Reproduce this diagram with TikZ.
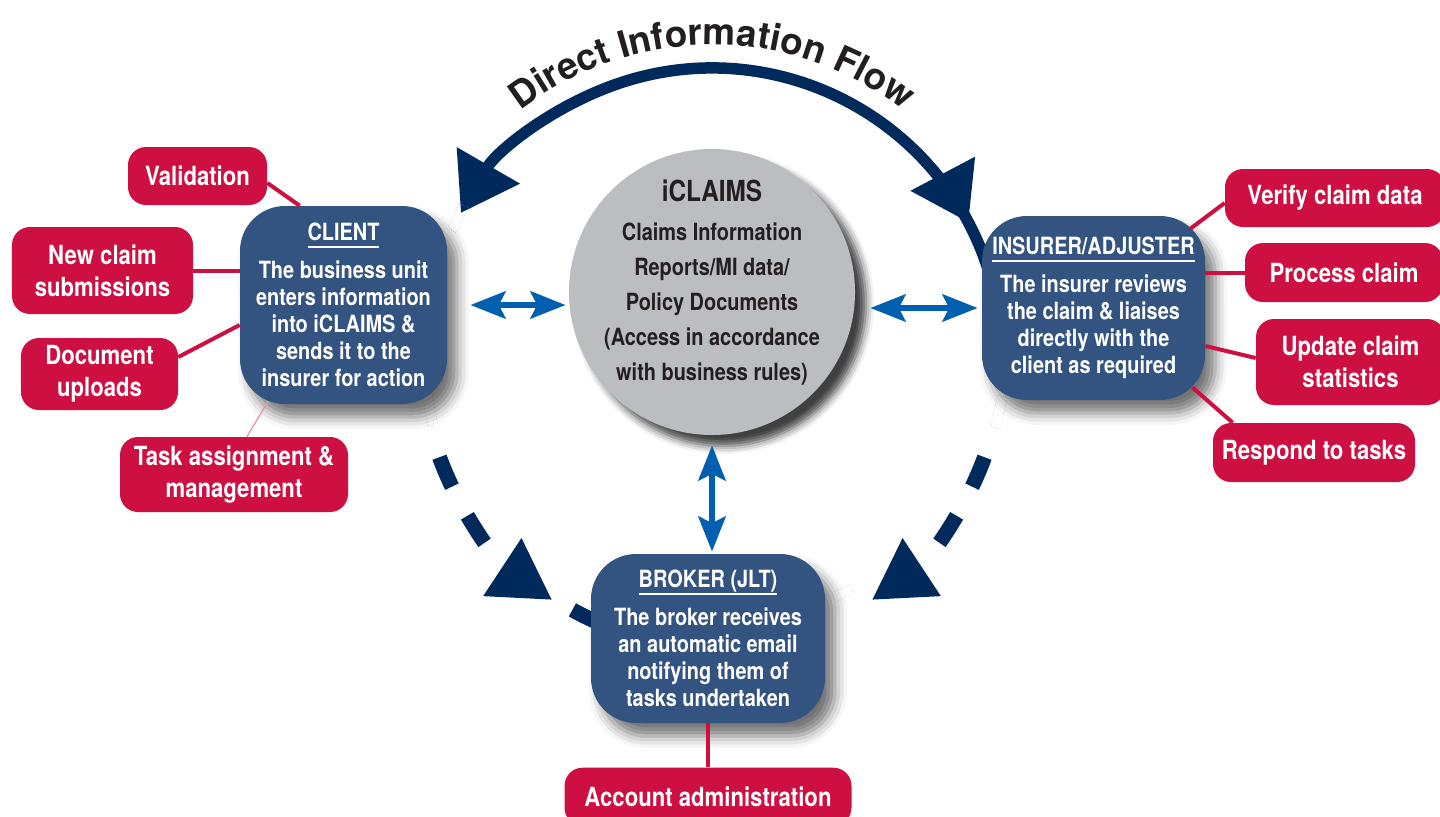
\documentclass[tikz,border=0pt]{standalone}
\usepackage{fontspec}
\setmainfont{TeX Gyre Heros}[FakeStretch=0.84]
\newfontfamily\flowfont{TeX Gyre Heros}
\usetikzlibrary{arrows.meta,decorations.text,decorations.markings,shadows.blur,positioning}

\definecolor{boxblue}{RGB}{51,83,128}
\definecolor{tagred}{RGB}{205,15,65}
\definecolor{ringnavy}{RGB}{0,42,92}
\definecolor{linkblue}{RGB}{0,96,175}
\definecolor{hubgray}{RGB}{188,189,192}
\definecolor{ink}{RGB}{35,31,32}

% underlined heading inside a party box
\newcommand{\boxhead}[1]{\setbox0=\hbox{#1}\rlap{\raisebox{-4.3pt}{\rule{\wd0}{1.3pt}}}\box0}

\begin{document}
\begin{tikzpicture}[
  x=0.2mm, y=-0.2mm,
  party/.style={rectangle, rounded corners=9mm, fill=boxblue, text=white, align=center, inner sep=0pt,
    font=\bfseries\fontsize{13.5}{15.4}\selectfont,
    blur shadow={shadow xshift=2mm, shadow yshift=-2.6mm, shadow blur radius=2.4mm, shadow opacity=55}},
  task/.style={rectangle, rounded corners=3.6mm, fill=tagred, text=white, align=center, inner sep=0pt,
    font=\bfseries\fontsize{15}{18}\selectfont},
  link/.style={tagred, line width=0.8mm},
  flow/.style={ringnavy, line width=2.3mm},
  flowdash/.style={ringnavy, line width=3mm, dash pattern=on 6.4mm off 6.6mm},
  bigtip/.style={-{Triangle[length=11mm,width=14mm]}},
  sync/.style={linkblue, line width=1.3mm,
    {Stealth[length=7mm,width=5.4mm,inset=1.3mm]}-{Stealth[length=7mm,width=5.4mm,inset=1.3mm]}},
  frame/.style={draw=gray!60, densely dotted, line width=0.3pt}
]
\useasboundingbox (0,0) rectangle (1440,816);
\coordinate (ring) at (712,358);

% Flow ring, solid on top, dashed towards the broker
\draw[flow, bigtip, postaction={decorate},
  decoration={markings, mark=at position 10mm with {\arrowreversed{Triangle[length=11mm,width=14mm]}}}]
  ([shift={(342:290)}]ring) arc[start angle=342, end angle=210, radius=290];
\draw[flowdash, -{Triangle[length=12mm,width=13mm]}]
  ([shift={(160:290)}]ring) arc[start angle=160, end angle=123.4, radius=290];
\draw[flowdash, dash pattern=] ([shift={(119:288)}]ring) arc[start angle=119, end angle=105, radius=288];
\draw[flowdash, -{Triangle[length=12mm,width=13mm]}]
  ([shift={(20:290)}]ring) arc[start angle=20, end angle=56.6, radius=290];

% Stray frames
\draw[frame, rotate around={-25:(458,218)}] (453,204) rectangle (463,232);
\draw[frame, rotate around={10:(430,410)}] (425,394) rectangle (435,426);
\draw[frame, rotate around={-12:(999,412)}] (994,396) rectangle (1004,428);
\draw[frame, rotate around={25:(843,593)}] (833,588) rectangle (853,598);

% Hub
\node[circle, fill=hubgray, minimum size=57.2mm, inner sep=-3mm, align=center, text=ink, text depth=4.6mm,
  font=\bfseries\fontsize{13.5}{20}\selectfont,
  blur shadow={shadow xshift=2.2mm, shadow yshift=-2.2mm, shadow blur radius=1.6mm, shadow opacity=75}]
  (hub) at (712,292) {{\fontsize{16.5}{20}\selectfont iCLAIMS}\\[0.6mm]Claims Information\\Reports/MI data/\\Policy Documents\\(Access in accordance\\with business rules)};

% Parties
\node[party, minimum width=41.4mm, minimum height=39.6mm] (client) at (343.5,305)
  {\boxhead{CLIENT}\\[2.2mm]The business unit\\enters information\\into iCLAIMS \&\\sends it to the\\insurer for action};
\node[party, minimum width=44.6mm, minimum height=36.8mm] (insurer) at (1093.5,308)
  {\boxhead{INSURER/ADJUSTER}\\[2.2mm]The insurer reviews\\the claim \& liaises\\directly with the\\client as required};
\node[party, minimum width=46.8mm, minimum height=33.8mm] (broker) at (708,638.5)
  {\boxhead{BROKER (JLT)}\\[2.2mm]The broker receives\\an automatic email\\notifying them of\\tasks undertaken};

% Client tasks
\node[task, minimum width=27.8mm, minimum height=11.6mm] (valid) at (197.5,176) {Validation};
\node[task, minimum width=36.2mm, minimum height=17.4mm] (newclaim) at (102.5,270.5) {New claim\\submissions};
\node[task, minimum width=31.4mm, minimum height=14.4mm] (docs) at (99.5,374) {Document\\uploads};
\node[task, minimum width=45.6mm, minimum height=15mm] (assign) at (234,474.5) {Task assignment \&\\management};

% Insurer tasks
\node[task, minimum width=44mm, minimum height=11.6mm] (verify) at (1335,198) {Verify claim data};
\node[task, minimum width=39.6mm, minimum height=11.8mm] (process) at (1344,272.5) {Process claim};
\node[task, minimum width=37.8mm, minimum height=17.2mm] (stats) at (1350.5,362) {Update claim\\statistics};
\node[task, minimum width=40.4mm, minimum height=11.8mm] (respond) at (1314,452.5) {Respond to tasks};

% Broker task
\node[task, minimum width=57.4mm, minimum height=11.6mm, below=8.8mm of broker] (admin) {Account administration};

% Task links
\draw[link] ([yshift=-1.4mm]valid.east) -- ([xshift=12mm]client.north west);
\draw[link] (newclaim.east) -- (newclaim.east -| client.west);
\draw[link] ([yshift=3.4mm]docs.east) -- ([yshift=-4mm]client.west);
\draw[tagred!45, line width=0.25mm] ([xshift=2.6mm]assign.north) -- ([xshift=-15.1mm,yshift=0.6mm]client.south);
\draw[link] ([yshift=-1mm]verify.west) -- ([xshift=-3mm,yshift=-2.6mm]insurer.north east);
\draw[link] (process.west) -- (process.west -| insurer.east);
\draw[link] ([yshift=0.8mm]stats.west) -- ([yshift=-7.6mm]insurer.east);
\draw[link] ([xshift=4mm]respond.north west) -- ([xshift=-2.6mm,yshift=2.6mm]insurer.south east);
\draw[link] (broker.south) -- (broker.south |- admin.north);

% Hub links
\draw[sync] ([xshift=4.6mm]client.east) -- ([xshift=-0.6mm]hub.west |- client.east);
\draw[sync] ([xshift=3mm]hub.east |- insurer.west) -- ([xshift=-0.8mm]insurer.west);
\draw[sync] ([yshift=-2mm]hub.south) -- ([yshift=0.4mm]hub.south |- broker.north);

% Ring caption
\path[decorate, decoration={text along path, text align=center, text color=ink,
  text={|\flowfont\bfseries\fontsize{21}{24}\selectfont|Direct Information Flow}}]
  ([shift={(205:313)}]ring) arc[start angle=205, end angle=335, radius=313];
\end{tikzpicture}
\end{document}
